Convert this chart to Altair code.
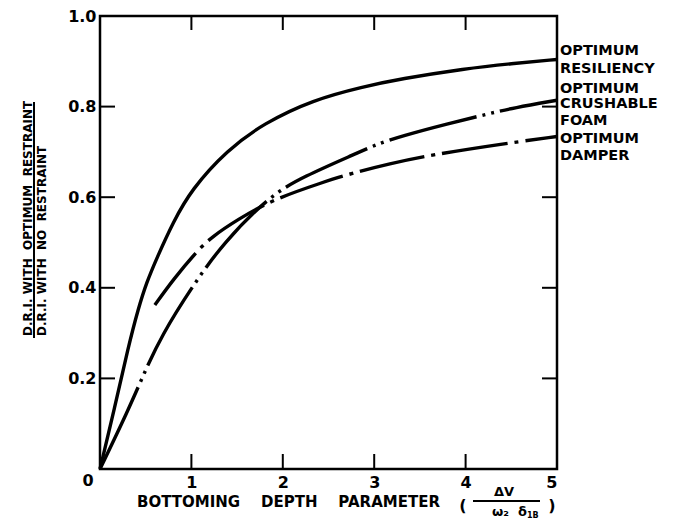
import altair as alt
import pandas as pd

# ---- data ----
res_x = [0, 0.16, 0.31, 0.42, 0.51, 0.62, 0.8, 1.0, 1.39, 1.79, 2.33, 2.88, 3.28, 4.0, 4.5, 5.0]
res_y = [0, 0.135, 0.27, 0.355, 0.412, 0.465, 0.545, 0.617, 0.704, 0.763, 0.815, 0.844, 0.861, 0.884, 0.895, 0.904]

foam_x = [0, 0.31, 0.49, 0.675, 1.0, 1.35, 1.86, 2.22, 2.81, 3.03, 3.3, 3.8, 4.27, 4.52, 5.0]
foam_y = [0, 0.13, 0.215, 0.295, 0.40, 0.50, 0.603, 0.645, 0.697, 0.717, 0.735, 0.762, 0.785, 0.797, 0.814]

damp_x = [0.6, 0.8, 1.06, 1.22, 1.5, 1.88, 2.44, 2.74, 3.17, 3.61, 4.45, 5.0]
damp_y = [0.362, 0.418, 0.481, 0.512, 0.55, 0.594, 0.633, 0.652, 0.674, 0.693, 0.719, 0.734]

x_ticks = [1, 2, 3, 4]
y_ticks = [0.2, 0.4, 0.6, 0.8]
x_labels = [1, 2, 3, 4, 5]
y_labels = [0.2, 0.4, 0.6, 0.8, 1.0]

NB = "\u00a0"
series_labels = ["OPTIMUM", "RESILIENCY", "OPTIMUM", "CRUSHABLE", "FOAM", "OPTIMUM", "DAMPER"]
y_title_num = f"D.R.I.{NB}WITH{NB*2}OPTIMUM{NB*2}RESTRAINT"
y_title_den = f"D.R.I.{NB}WITH{NB*2}NO{NB*2}RESTRAINT"
x_title = f"BOTTOMING{NB*4}DEPTH{NB*4}PARAMETER"

FONT = "DejaVu Sans"
W, H = 457, 453

xs = alt.Scale(domain=[0, 5], nice=False, zero=False)
ys = alt.Scale(domain=[0, 1], nice=False, zero=False)
xax = alt.Axis(values=x_labels, format="d", ticks=False, domain=False, grid=False, title=None,
               labelFont=FONT, labelFontWeight="bold", labelFontSize=16, labelPadding=5, labelColor="black")
yax = alt.Axis(values=y_labels, format=".1f", ticks=False, domain=False, grid=False, title=None,
               labelFont=FONT, labelFontWeight="bold", labelFontSize=16, labelPadding=4, labelColor="black")

def X(f="x"):
    return alt.X(f"{f}:Q", scale=xs, axis=xax)

def Y(f="y"):
    return alt.Y(f"{f}:Q", scale=ys, axis=yax)

def curve(xv, yv, dash=None):
    df = pd.DataFrame({"x": xv, "y": yv, "o": range(len(xv))})
    kw = dict(color="black", strokeWidth=3.4, interpolate="basis", strokeCap="butt")
    if dash:
        kw["strokeDash"] = dash
    return alt.Chart(df).mark_line(**kw).encode(x=X(), y=Y(), order="o:Q")

xt = pd.DataFrame({"x": x_ticks})
yt = pd.DataFrame({"y": y_ticks})
tick_kw = dict(color="black", strokeWidth=2)
ticks = alt.layer(
    alt.Chart(xt).mark_rule(**tick_kw).encode(x=X(), y=alt.value(H), y2=alt.value(H - 15)),
    alt.Chart(xt).mark_rule(**tick_kw).encode(x=X(), y=alt.value(0), y2=alt.value(14)),
    alt.Chart(yt).mark_rule(**tick_kw).encode(y=Y(), x=alt.value(0), x2=alt.value(15)),
    alt.Chart(yt).mark_rule(**tick_kw).encode(y=Y(), x=alt.value(W), x2=alt.value(W - 15)),
)

one = pd.DataFrame({"a": [0]})

def txt(s, x, y, size=14.5, align="left", angle=0, baseline="alphabetic"):
    return alt.Chart(one).mark_text(text=s, font=FONT, fontWeight="bold", fontSize=size, align=align,
                                     baseline=baseline, angle=angle, color="black").encode(
        x=alt.value(x), y=alt.value(y))

label_y = [39, 57, 77, 92, 109, 127, 144]
right_labels = alt.layer(*[txt(s, 460, yy) for s, yy in zip(series_labels, label_y)])

frac_rule = alt.Chart(one).mark_rule(color="black", strokeWidth=2).encode(
    x=alt.value(-66), x2=alt.value(-66), y=alt.value(86), y2=alt.value(322))
yt_num = txt(y_title_num, -68, 320, size=12, angle=270)
yt_den = txt(y_title_den, -54, 320, size=12, angle=270)

zero_lbl = txt("0", -12, 465, size=16, align="center", baseline="middle")
xtitle = txt(x_title, 37, 491, size=15)
lpar = txt("(", 363, 495, size=16, align="center")
rpar = txt(")", 452, 495, size=16, align="center")
dv = txt("ΔV", 404, 480, size=13, align="center")
xfrac = alt.Chart(one).mark_rule(color="black", strokeWidth=1.8).encode(
    x=alt.value(373), x2=alt.value(440), y=alt.value(485), y2=alt.value(485))
den1 = txt("ω₂", 392, 500, size=13)
den2 = txt("δ", 418, 500, size=13)
den3 = txt("1B", 427, 502, size=8)

chart = alt.layer(
    ticks,
    curve(res_x, res_y),
    curve(foam_x, foam_y, [90, 6, 3, 6, 3, 6]),
    curve(damp_x, damp_y, [66, 7, 4, 7]),
    right_labels, frac_rule, yt_num, yt_den, zero_lbl, xtitle, lpar, rpar, dv, xfrac, den1, den2, den3,
).properties(
    width=W, height=H,
    autosize=alt.AutoSizeParams(type="none"),
    padding={"left": 100, "top": 16, "right": 124, "bottom": 51},
    background="white",
).configure_view(stroke="black", strokeWidth=2.5)

chart.save("out.html", embed_options={"renderer": "svg", "actions": False})
